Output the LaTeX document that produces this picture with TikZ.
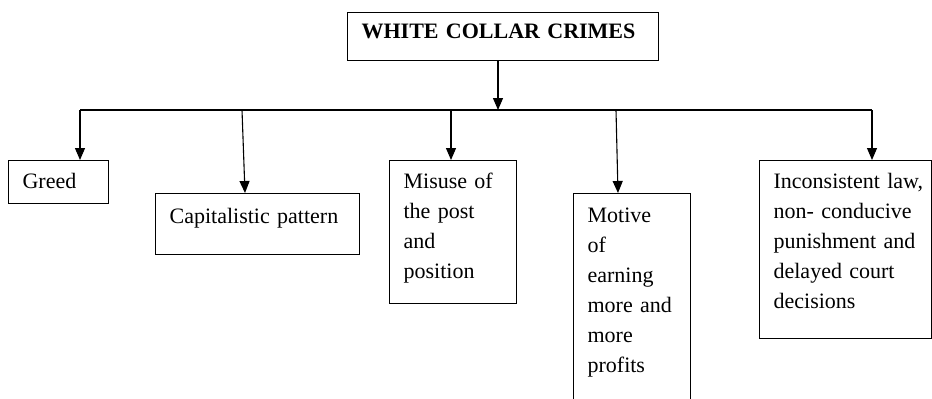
\documentclass[tikz,border=0pt]{standalone}
\usepackage{fontspec}
\setmainfont{Liberation Serif}
\usetikzlibrary{arrows.meta, positioning}

\tikzset{
    box/.style={draw, line width=0.6pt, anchor=north west, inner xsep=7pt, inner ysep=0pt,
        align=left, text height=14pt, font=\fontsize{11}{15}\selectfont},
    arr/.style={line width=0.55pt, -{Triangle[length=6pt, width=5pt]}}
}

\begin{document}
\begin{tikzpicture}[x=0.5pt, y=-0.5pt]

    \useasboundingbox (0,0) rectangle (932,398);

    % Title box
    \node[box, text width=141.5pt, text height=13pt, text depth=11pt,
        font=\fontsize{11}{15}\selectfont\bfseries] (title) at (347,12) {WHITE COLLAR CRIMES};

    % Causes
    \node[box, text width=36pt, text depth=7.5pt] (greed) at (8,160) {Greed};
    \node[box, text width=88pt, text height=15pt, text depth=15.5pt] (capital) at (155,193) {Capitalistic pattern};
    \node[box, text width=49.5pt, text depth=57.5pt] (misuse) at (389,160) {Misuse of\\the post\\and\\position};
    \node[box, text width=44.5pt, text height=14.5pt, text depth=94pt] (motive) at (573,193) {Motive\\of\\earning\\more and\\more\\profits};
    \node[box, text width=72pt, text depth=75pt] (laws) at (759,160) {\mbox{Inconsistent law,}\\non- conducive\\punishment and\\delayed court\\decisions};

    % Branch line
    \coordinate (hub) at (498,110);
    \coordinate (bgreed) at (80,110);
    \coordinate (bcapital) at (242,110);
    \coordinate (bmisuse) at (451,110);
    \coordinate (bmotive) at (616,110);
    \coordinate (blaws) at (872,110);
    \draw[line width=0.6pt] (bgreed) -- (blaws);

    % Arrows
    \draw[arr] (hub |- title.south) -- (hub);
    \draw[arr] (bgreed) -- (bgreed |- greed.north);
    \draw[arr] (bcapital) -- ([xshift=45pt]capital.north west);
    \draw[arr] (bmisuse) -- (bmisuse |- misuse.north);
    \draw[arr] (bmotive) -- ([xshift=22.5pt]motive.north west);
    \draw[arr] (blaws) -- (blaws |- laws.north);

\end{tikzpicture}
\end{document}
